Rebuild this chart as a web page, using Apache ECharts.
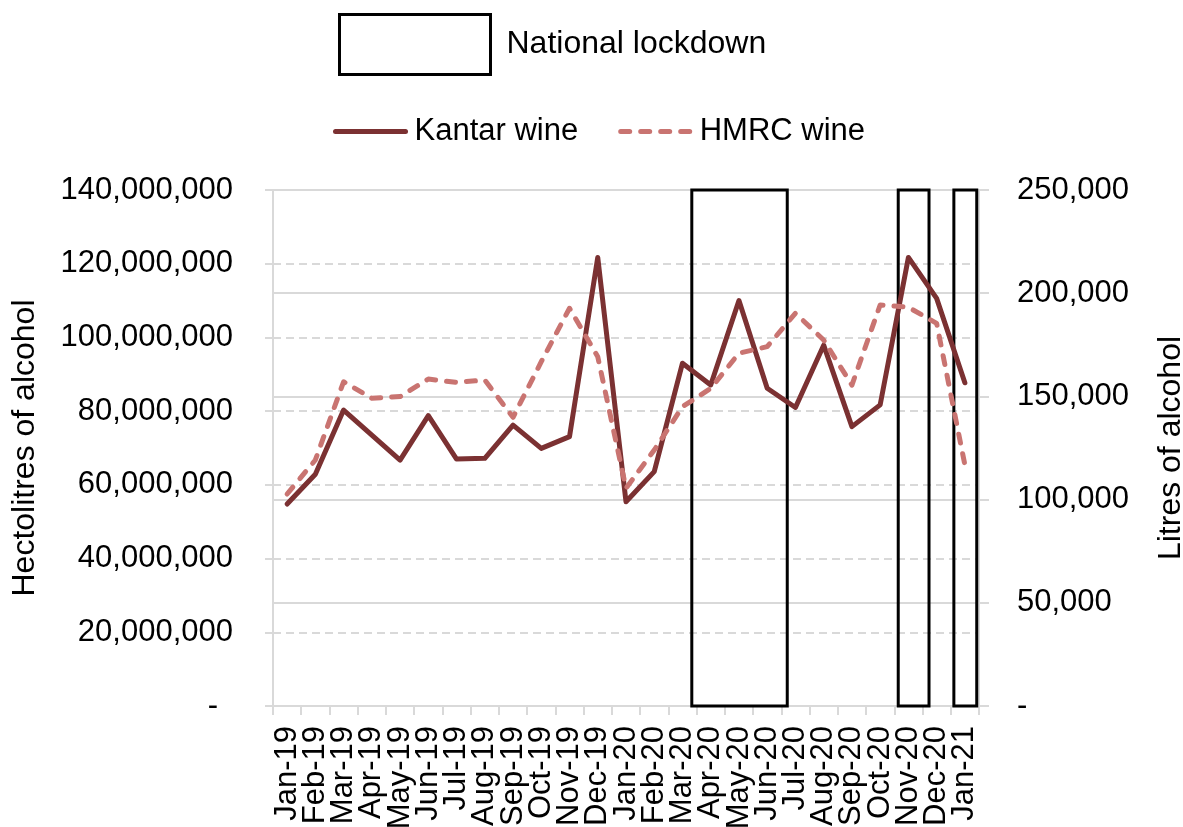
<!DOCTYPE html>
<html>
<head>
<meta charset="utf-8">
<script src="https://cdn.jsdelivr.net/npm/echarts@6/dist/echarts.min.js"></script>
<style>
html,body{margin:0;padding:0;background:#fff;}
#chart{width:1183px;height:827px;}
</style>
</head>
<body>
<div id="chart"></div>
<script>
const categories = ['Jan-19','Feb-19','Mar-19','Apr-19','May-19','Jun-19','Jul-19','Aug-19','Sep-19','Oct-19','Nov-19','Dec-19',
  'Jan-20','Feb-20','Mar-20','Apr-20','May-20','Jun-20','Jul-20','Aug-20','Sep-20','Oct-20','Nov-20','Dec-20','Jan-21'];
const kantarWine = [54800000, 62900000, 80300000, 73500000, 66700000, 78800000, 67000000, 67200000, 76200000, 69900000, 73100000, 121700000,
  55400000, 63600000, 93000000, 87100000, 110000000, 86200000, 81000000, 97900000, 75800000, 81700000, 121700000, 110600000, 87700000];
const hmrcWine = [102700, 119200, 157100, 149100, 149900, 158400, 156800, 157900, 139900, 166800, 192700, 169200,
  105500, 124000, 145000, 153900, 170900, 174100, 190300, 177300, 155500, 194300, 193200, 185400, 116800];
// lockdown periods, in months from the start of Jan-19
const lockdownStart = [14.83, 22.14, 24.11];
const lockdownEnd = [18.21, 23.23, 24.92];
const leftMax = 140000000, leftInterval = 20000000;
const rightMax = 250000, rightInterval = 50000;

const FONT = "'Liberation Sans', Arial, sans-serif";
const GRID = '#d9d9d9';
const KANTAR = '#7b3132';
const HMRC = '#c97471';
const chart = echarts.init(document.getElementById('chart'));
const fmt = v => v === 0 ? '-' : v.toLocaleString('en-US');

const kantarLine = {color: KANTAR, width: 5, join: 'round', cap: 'round'};
const hmrcLine = {color: HMRC, width: 5, type: [9, 11], cap: 'round', join: 'round'};

chart.setOption({
  animation: false,
  textStyle: {fontFamily: FONT, color: '#000'},
  grid: {left: 273, right: 204, top: 190, bottom: 121, containLabel: false, outerBoundsMode: 'none'},
  legend: [
    {
      left: 338, top: 13, padding: 0,
      itemWidth: 151, itemHeight: 60,
      data: [{name: 'National lockdown', icon: 'rect', itemStyle: {color: '#fff', borderColor: '#000', borderWidth: 3}}],
      textStyle: {fontFamily: FONT, fontSize: 32, color: '#000', padding: [8, 0, 0, 11]}
    },
    {
      left: 333, top: 116, padding: 0,
      itemWidth: 70, itemHeight: 30, itemGap: 40,
      itemStyle: {opacity: 0, color: 'transparent', borderWidth: 0},
      data: [
        {name: 'Kantar wine', itemStyle: {opacity: 0, color: 'transparent', borderWidth: 0}, lineStyle: kantarLine},
        {name: 'HMRC wine', itemStyle: {opacity: 0, color: 'transparent', borderWidth: 0}, lineStyle: hmrcLine}
      ],
      textStyle: {fontFamily: FONT, fontSize: 31, color: '#000', padding: [2, 0, 0, 4]}
    }
  ],
  xAxis: [
    {
      type: 'category', data: categories, boundaryGap: true,
      axisLine: {lineStyle: {color: GRID, width: 2}},
      axisTick: {show: true, length: 9, lineStyle: {color: GRID, width: 2}},
      axisLabel: {rotate: 90, interval: 0, fontSize: 31, margin: 20, color: '#000', fontFamily: FONT},
      splitLine: {show: false}
    },
    {type: 'value', min: 0, max: categories.length, show: false}
  ],
  yAxis: [
    {
      type: 'value', position: 'left', min: 0, max: leftMax, interval: leftInterval,
      name: 'Hectolitres of alcohol', nameLocation: 'middle', nameRotate: 90, nameGap: 232,
      nameTextStyle: {fontSize: 32, color: '#000', fontFamily: FONT},
      axisLine: {show: true, lineStyle: {color: GRID, width: 2}},
      axisTick: {show: true, length: 8, lineStyle: {color: GRID, width: 2}},
      axisLabel: {
        fontSize: 31, margin: 40, color: '#000', fontFamily: FONT,
        formatter: v => v === 0 ? '{d|-}' : v.toLocaleString('en-US'),
        rich: {d: {fontSize: 31, fontFamily: FONT, color: '#000', padding: [0, 15, 0, 0]}}
      },
      splitLine: {show: true, lineStyle: {color: GRID, width: 2, type: [8, 5]}}
    },
    {
      type: 'value', position: 'right', min: 0, max: rightMax, interval: rightInterval,
      name: 'Litres of alcohol', nameLocation: 'middle', nameRotate: 90, nameGap: 176,
      nameTextStyle: {fontSize: 32, color: '#000', fontFamily: FONT},
      axisLine: {show: true, lineStyle: {color: GRID, width: 2}},
      axisTick: {show: true, length: 10, lineStyle: {color: GRID, width: 2}},
      axisLabel: {fontSize: 31, margin: 38, color: '#000', fontFamily: FONT, formatter: fmt},
      splitLine: {show: true, lineStyle: {color: GRID, width: 2}}
    }
  ],
  series: [
    {
      name: 'National lockdown', type: 'custom', xAxisIndex: 1, yAxisIndex: 1,
      data: lockdownStart.map((s, i) => [s, lockdownEnd[i]]),
      encode: {x: [0, 1]},
      clip: false, z: 3,
      itemStyle: {color: '#fff', borderColor: '#000', borderWidth: 3},
      renderItem: (params, api) => {
        const p0 = api.coord([api.value(0), rightMax]);
        const p1 = api.coord([api.value(1), 0]);
        return {type: 'rect', shape: {x: p0[0], y: p0[1], width: p1[0] - p0[0], height: p1[1] - p0[1]},
          style: {fill: 'none', stroke: '#000', lineWidth: 3}};
      }
    },
    {
      name: 'Kantar wine', type: 'line', xAxisIndex: 0, yAxisIndex: 0, data: kantarWine,
      symbol: 'none', z: 4,
      itemStyle: {color: KANTAR},
      lineStyle: kantarLine
    },
    {
      name: 'HMRC wine', type: 'line', xAxisIndex: 0, yAxisIndex: 1, data: hmrcWine,
      symbol: 'none', z: 4,
      itemStyle: {color: HMRC},
      lineStyle: hmrcLine
    }
  ]
});
</script>
</body>
</html>
